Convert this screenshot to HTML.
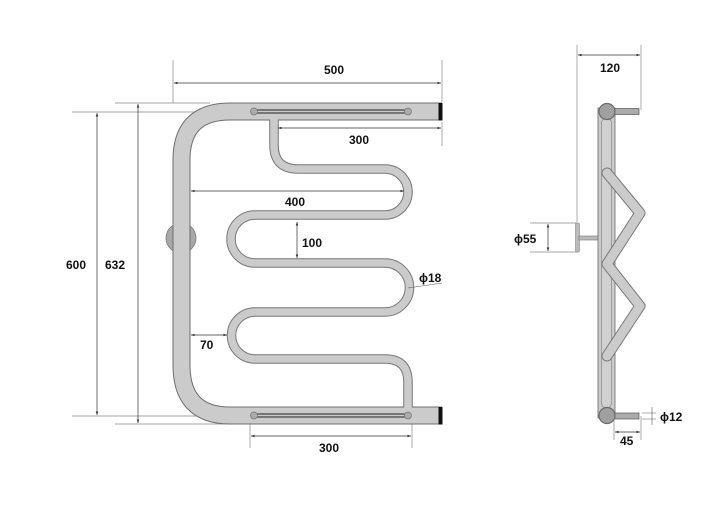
<!DOCTYPE html>
<html><head><meta charset="utf-8"><style>
html,body{margin:0;padding:0;background:#fff;width:720px;height:525px;overflow:hidden}
text{font-family:"Liberation Sans",sans-serif;font-weight:bold;font-size:12px;fill:#111}
</style></head><body>
<svg width="720" height="525" viewBox="0 0 720 525" xmlns="http://www.w3.org/2000/svg">
<defs>
<marker id="a" viewBox="0 0 6 6" refX="6" refY="3" markerWidth="5" markerHeight="5" orient="auto-start-reverse"><path d="M0,0.8 L6,3 L0,5.2z" fill="#333"/></marker>
</defs>
<g stroke="#888" stroke-width="0.7" fill="none">
<!-- extension lines -->
<line x1="173" y1="60" x2="173" y2="103"/>
<line x1="442" y1="60" x2="442" y2="102"/>
<line x1="442" y1="122" x2="442" y2="146"/>
<line x1="72" y1="112" x2="210" y2="112"/>
<line x1="115" y1="103" x2="210" y2="103"/>
<line x1="72" y1="416" x2="225" y2="416"/>
<line x1="115" y1="424" x2="230" y2="424"/>
<line x1="250" y1="420" x2="250" y2="448"/>
<line x1="412" y1="420" x2="412" y2="448"/>
<line x1="577" y1="45" x2="577" y2="222"/>
<line x1="641" y1="45" x2="641" y2="110"/>
<line x1="530" y1="223" x2="578" y2="223"/>
<line x1="530" y1="252" x2="578" y2="252"/>
<line x1="614" y1="420" x2="614" y2="440"/>
<line x1="641" y1="416" x2="641" y2="440"/>
<line x1="642" y1="413" x2="656" y2="413"/>
<line x1="642" y1="419" x2="656" y2="419"/>
</g>
<!-- wall mount -->
<circle cx="181" cy="238" r="15" fill="#a8a8a8" stroke="#777" stroke-width="0.8"/>
<!-- main frame -->
<path d="M442 111.5 H230 Q181.5 111.5 181.5 160 V365 Q181.5 415.5 230 415.5 H442" fill="none" stroke="#6e6e6e" stroke-width="18"/>
<path d="M441 111.5 H230 Q181.5 111.5 181.5 160 V365 Q181.5 415.5 230 415.5 H441" fill="none" stroke="#cbcbcb" stroke-width="16"/>
<rect x="438.5" y="103" width="4" height="17.5" fill="#111"/>
<rect x="438.5" y="407" width="4" height="17.5" fill="#111"/>
<!-- serpentine -->
<path d="M274 120 V145 Q274 169 298 169 H385 A23 23 0 0 1 385 215 H255 A23 23 0 0 0 255 263 H385 A24.5 24.5 0 0 1 385 312 H255 A23.5 23.5 0 0 0 255 359 H385 Q408 359 408 382 V407" fill="none" stroke="#777" stroke-width="9.5"/>
<path d="M274 119 V145 Q274 169 298 169 H385 A23 23 0 0 1 385 215 H255 A23 23 0 0 0 255 263 H385 A24.5 24.5 0 0 1 385 312 H255 A23.5 23.5 0 0 0 255 359 H385 Q408 359 408 382 V408" fill="none" stroke="#cbcbcb" stroke-width="7.5"/>
<!-- rods -->
<g stroke="#222" stroke-width="0.9">
<line x1="255" y1="110" x2="408" y2="110"/><line x1="255" y1="113" x2="408" y2="113"/>
<line x1="255" y1="414" x2="408" y2="414"/><line x1="255" y1="417" x2="408" y2="417"/>
</g>
<g fill="#aaa" stroke="#777" stroke-width="0.8">
<circle cx="254" cy="111.5" r="3.5"/><circle cx="408" cy="111.5" r="3.5"/>
<circle cx="254" cy="415.5" r="3.5"/><circle cx="408" cy="415.5" r="3.5"/>
</g>
<!-- dimensions -->
<g stroke="#333" stroke-width="0.7" fill="none" marker-start="url(#a)" marker-end="url(#a)">
<line x1="174" y1="83" x2="441" y2="83"/>
<line x1="278" y1="128" x2="441" y2="128"/>
<line x1="191" y1="191" x2="404" y2="191"/>
<line x1="297" y1="222" x2="297" y2="258"/>
<line x1="191" y1="335" x2="227" y2="335"/>
<line x1="97" y1="113" x2="97" y2="415"/>
<line x1="138" y1="104" x2="138" y2="423"/>
<line x1="251" y1="436" x2="411" y2="436"/>
<line x1="578" y1="55" x2="640" y2="55"/>
<line x1="548" y1="224" x2="548" y2="251"/>
<line x1="615" y1="432" x2="640" y2="432"/>
</g>
<line x1="408" y1="288" x2="442" y2="283" stroke="#555" stroke-width="0.6"/>
<line x1="652" y1="407" x2="652" y2="425" stroke="#555" stroke-width="0.6"/>
<text x="324" y="74">500</text>
<text x="349" y="144">300</text>
<text x="285" y="206">400</text>
<text x="302" y="247">100</text>
<text x="419" y="282">ϕ18</text>
<text x="200" y="349">70</text>
<text x="66" y="269">600</text>
<text x="105" y="269">632</text>
<text x="319" y="452">300</text>
<text x="600" y="72">120</text>
<text x="514" y="243">ϕ55</text>
<text x="660" y="421">ϕ12</text>
<text x="620" y="445">45</text>
<!-- side view -->
<rect x="575.5" y="223" width="4" height="29" rx="1.5" fill="#bbb" stroke="#888" stroke-width="0.6"/>
<rect x="579" y="236" width="19" height="4" fill="#bbb" stroke="#777" stroke-width="0.6"/>
<rect x="598" y="108" width="17" height="310" fill="#cbcbcb" stroke="#777" stroke-width="0.9"/>
<rect x="601.5" y="118" width="10" height="290" rx="5" fill="#d0d0d0" stroke="#888" stroke-width="0.7"/>
<path d="M607 173 L640 213 L607 264 L640 306 L607 356" fill="none" stroke="#777" stroke-width="11" stroke-linejoin="round" stroke-linecap="round"/>
<path d="M607 173 L640 213 L607 264 L640 306 L607 356" fill="none" stroke="#cbcbcb" stroke-width="9" stroke-linejoin="round" stroke-linecap="round"/>
<rect x="614" y="108.5" width="25" height="6" fill="#aaa" stroke="#555" stroke-width="0.7"/>
<rect x="614" y="413" width="25" height="6" fill="#aaa" stroke="#555" stroke-width="0.7"/>
<circle cx="607" cy="111.5" r="8" fill="#a0a0a0" stroke="#6a6a6a" stroke-width="1.2"/>
<circle cx="607" cy="415.5" r="8" fill="#a0a0a0" stroke="#6a6a6a" stroke-width="1.2"/>
</svg>
</body></html>
